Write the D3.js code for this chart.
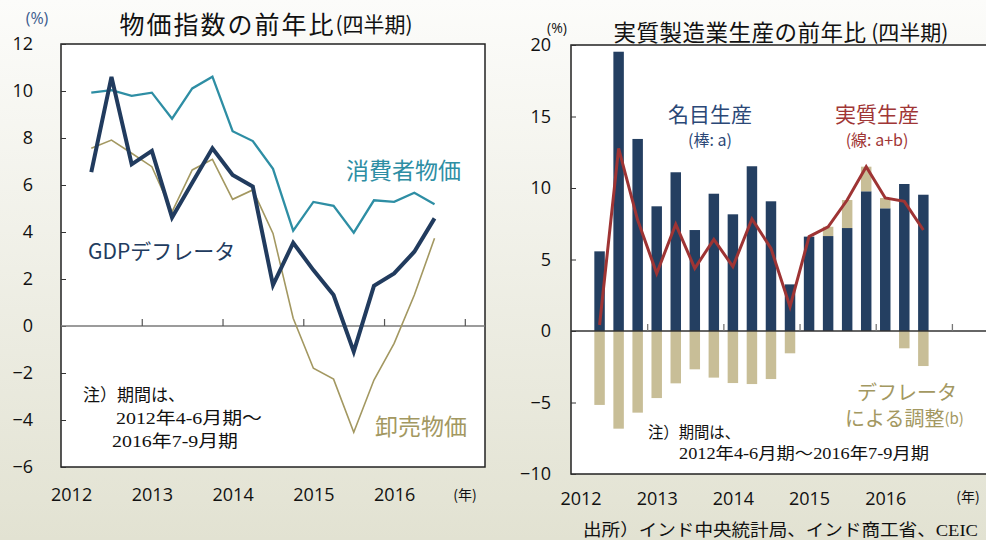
<!DOCTYPE html>
<html><head><meta charset="utf-8">
<script src="https://cdn.jsdelivr.net/npm/d3@7"></script>
<style>
html,body{margin:0;padding:0;}
svg{display:block;}
</style></head>
<body>
<svg id="chart" width="986" height="540"></svg>
<script>
// ---------- DATA ----------
const quarters = ["2012Q2","2012Q3","2012Q4","2013Q1","2013Q2","2013Q3","2013Q4","2014Q1","2014Q2","2014Q3","2014Q4","2015Q1","2015Q2","2015Q3","2015Q4","2016Q1","2016Q2","2016Q3"];
const years = [2012, 2013, 2014, 2015, 2016];
// Left chart: price indices YoY (%)
const cpi         = [9.93,10.04,9.79,9.93,8.82,10.11,10.61,8.29,7.87,6.69,4.06,5.28,5.11,3.97,5.35,5.28,5.67,5.18];
const gdpDeflator = [6.55,10.6,6.88,7.45,4.62,6.1,7.56,6.43,5.93,1.74,3.54,2.38,1.32,-1.09,1.71,2.24,3.16,4.58];
const wpi         = [7.56,7.91,7.35,6.78,4.86,6.64,7.09,5.39,5.79,3.94,0.33,-1.8,-2.26,-4.52,-2.3,-0.74,1.32,3.73];
const leftTicks = [12,10,8,6,4,2,0,-2,-4,-6];
// Right chart: manufacturing production YoY (%)
const nominalProd   = [5.57,19.53,13.43,8.72,11.1,7.06,9.6,8.16,11.52,9.07,3.26,6.6,6.64,7.2,9.77,8.58,10.28,9.53];
const deflatorAdj   = [-5.17,-6.83,-5.71,-4.69,-3.66,-2.68,-3.26,-3.64,-3.71,-3.36,-1.56,0,0.65,1.96,1.72,0.72,-1.21,-2.45];
const realProd      = [0.42,12.77,7.76,4.03,7.46,4.38,6.41,4.5,7.83,5.78,1.7,6.6,7.29,9.16,11.49,9.3,9.07,7.06];
const rightTicks = [20,15,10,5,0,-5,-10];

// ---------- HELPERS ----------
const qTime = q => +q.slice(0,4) + (+q.slice(5)-1)/4 + 0.125;
const JP = "'Noto Sans CJK JP', sans-serif";
const NUM = "'Open Sans', 'Noto Sans', sans-serif";
const NOTE = "'Liberation Serif', 'Noto Sans CJK JP', serif";

const svg = d3.select("#chart");
const defs = svg.append("defs");
const grad = defs.append("linearGradient").attr("id","bg").attr("x1",0).attr("y1",0).attr("x2",0).attr("y2",1);
grad.append("stop").attr("offset","0%").attr("stop-color","#fcfcfa");
grad.append("stop").attr("offset","100%").attr("stop-color","#e2e2d2");
svg.append("rect").attr("width",986).attr("height",540).attr("fill","url(#bg)");

function txt(g, x, y, s, opts) {
  const t = g.append("text").attr("x",x).attr("y",y).text(s)
    .attr("font-family", opts.family || JP)
    .attr("font-size", opts.size || 16)
    .attr("fill", opts.color || "#111")
    .attr("text-anchor", opts.anchor || "start")
    .attr("dominant-baseline", "central");
  if (opts.ls) t.attr("letter-spacing", opts.ls);
  if (opts.len) t.attr("textLength", opts.len).attr("lengthAdjust","spacingAndGlyphs");
  return t;
}

// ================= LEFT CHART =================
const L = {x0:61, x1:485, y0:44, y1:467};
const xL = d3.scaleLinear().domain([2012, 2017.25]).range([L.x0, L.x1]);
const yL = d3.scaleLinear().domain([-6, 12]).range([L.y1, L.y0]);
const gL = svg.append("g");

gL.append("rect").attr("x",L.x0).attr("y",L.y0).attr("width",L.x1-L.x0).attr("height",L.y1-L.y0)
  .attr("fill","#fff").attr("stroke","#222").attr("stroke-width",1.5);

const yAxL = d3.axisLeft(yL).tickValues(leftTicks).tickSize(-5).tickPadding(28).tickFormat(d3.format("d"));
gL.append("g").attr("transform",`translate(${L.x0},0)`).call(yAxL)
  .call(g => { g.select(".domain").remove();
    g.selectAll(".tick line").attr("stroke","#333");
    g.selectAll("text").attr("font-family",NUM).attr("font-size",18).attr("fill","#111"); });

gL.append("line").attr("x1",L.x0).attr("x2",L.x1).attr("y1",yL(0)).attr("y2",yL(0)).attr("stroke","#7a7a7a").attr("stroke-width",1.6);
const xAxL = d3.axisBottom(xL).tickValues(years.map(y=>y+1)).tickSize(-7).tickFormat("");
gL.append("g").attr("transform",`translate(0,${yL(0)})`).call(xAxL)
  .call(g => { g.select(".domain").remove(); g.selectAll(".tick line").attr("stroke","#555").attr("stroke-width",1.2); });

const xLabL = d3.axisBottom(xL).tickValues(years.map(y=>y+0.125)).tickSize(0).tickPadding(0).tickFormat(d=>Math.floor(d));
gL.append("g").attr("transform",`translate(0,488)`).call(xLabL)
  .call(g => { g.select(".domain").remove();
    g.selectAll("text").attr("font-family",NUM).attr("font-size",18).attr("fill","#111"); });
txt(gL, 465, 494, "(年)", {size:14, anchor:"middle"});

const lineL = d3.line().x((d,i)=>xL(qTime(quarters[i]))).y(d=>yL(d));
gL.append("path").datum(wpi).attr("d",lineL).attr("fill","none").attr("stroke","#a39861").attr("stroke-width",1.6);
gL.append("path").datum(cpi).attr("d",lineL).attr("fill","none").attr("stroke","#2e8ea4").attr("stroke-width",2.3);
gL.append("path").datum(gdpDeflator).attr("d",lineL).attr("fill","none").attr("stroke","#213b5e").attr("stroke-width",4).attr("stroke-linejoin","miter");

txt(gL, 37, 18, "(%)", {size:16, color:"#3b5b8e", anchor:"middle", family:NUM});
const tL = gL.append("text").attr("x",266).attr("y",23).attr("text-anchor","middle").attr("dominant-baseline","central")
  .attr("font-family",JP).attr("fill","#111");
tL.append("tspan").attr("font-size",25).attr("letter-spacing",2).text("物価指数の前年比");
tL.append("tspan").attr("font-size",21).text("(四半期)");
txt(gL, 88, 250, "GDPデフレータ", {size:21, color:"#213b5e"});
txt(gL, 346, 169, "消費者物価", {size:23, color:"#2e8ea4"});
txt(gL, 375, 425, "卸売物価", {size:23, color:"#a39861"});
txt(gL, 83, 395, "注）期間は、", {size:17, family:NOTE, len:102});
txt(gL, 116, 418, "2012年4-6月期～", {size:17, family:NOTE, len:146});
txt(gL, 112, 441, "2016年7-9月期", {size:17, family:NOTE, len:126});

// ================= RIGHT CHART =================
const R = {x0:571, x1:990, y0:45, y1:474};
const xR = d3.scaleLinear().domain([2012, 2017.5]).range([R.x0, R.x1]);
const yR = d3.scaleLinear().domain([-10, 20]).range([R.y1, R.y0]);
const gR = svg.append("g");

gR.append("rect").attr("x",R.x0).attr("y",R.y0).attr("width",R.x1-R.x0).attr("height",R.y1-R.y0)
  .attr("fill","#fff").attr("stroke","#222").attr("stroke-width",1.5);

const yAxR = d3.axisLeft(yR).tickValues(rightTicks).tickSize(-5).tickPadding(20).tickFormat(d3.format("d"));
gR.append("g").attr("transform",`translate(${R.x0},0)`).call(yAxR)
  .call(g => { g.select(".domain").remove();
    g.selectAll(".tick line").attr("stroke","#333");
    g.selectAll("text").attr("font-family",NUM).attr("font-size",18).attr("fill","#111"); });

const qw = (xR(2013)-xR(2012))/4;
const bw = qw*0.55;
gR.selectAll("rect.nom").data(nominalProd).join("rect").attr("class","nom")
  .attr("x",(d,i)=>xR(qTime(quarters[i]))-bw/2).attr("width",bw)
  .attr("y",d=>yR(Math.max(0,d))).attr("height",d=>Math.abs(yR(d)-yR(0)))
  .attr("fill","#243f61");
gR.selectAll("rect.adj").data(deflatorAdj).join("rect").attr("class","adj")
  .attr("x",(d,i)=>xR(qTime(quarters[i]))-bw/2).attr("width",bw)
  .attr("y",(d,i)=> d>=0 ? yR(nominalProd[i]+d) : yR(0))
  .attr("height",(d)=>Math.abs(yR(d)-yR(0)))
  .attr("fill","#c8be97");

gR.append("line").attr("x1",R.x0).attr("x2",R.x1).attr("y1",yR(0)).attr("y2",yR(0)).attr("stroke","#333").attr("stroke-width",1.3);
const xAxR = d3.axisBottom(xR).tickValues(years.map(y=>y+1)).tickSize(-7).tickFormat("");
gR.append("g").attr("transform",`translate(0,${yR(0)})`).call(xAxR)
  .call(g => { g.select(".domain").remove(); g.selectAll(".tick line").attr("stroke","#777").attr("stroke-width",1.3); });

const xLabR = d3.axisBottom(xR).tickValues(years.map(y=>y+0.125)).tickSize(0).tickPadding(0).tickFormat(d=>Math.floor(d));
gR.append("g").attr("transform",`translate(0,492)`).call(xLabR)
  .call(g => { g.select(".domain").remove();
    g.selectAll("text").attr("font-family",NUM).attr("font-size",18).attr("fill","#111"); });
txt(gR, 968, 496, "(年)", {size:14, anchor:"middle"});

const lineR = d3.line().x((d,i)=>xR(qTime(quarters[i]))).y(d=>yR(d));
gR.append("path").datum(realProd).attr("d",lineR).attr("fill","none").attr("stroke","#9e3434").attr("stroke-width",3);

txt(gR, 557, 27, "(%)", {size:14, anchor:"middle", family:NUM});
const tR = gR.append("text").attr("x",781).attr("y",31).attr("text-anchor","middle").attr("dominant-baseline","central")
  .attr("font-family",JP).attr("fill","#111");
tR.append("tspan").attr("font-size",22.5).attr("letter-spacing",0.5).text("実質製造業生産の前年比");
tR.append("tspan").attr("font-size",21).text(" (四半期)");

txt(gR, 710, 113, "名目生産", {size:21, color:"#2b4877", anchor:"middle"});
txt(gR, 710, 139, "(棒: a)", {size:16, color:"#2b4877", anchor:"middle"});
txt(gR, 877, 113, "実質生産", {size:21, color:"#a03636", anchor:"middle"});
txt(gR, 877, 139, "(線: a+b)", {size:16, color:"#a03636", anchor:"middle"});
txt(gR, 907, 391, "デフレータ", {size:20, color:"#a39861", anchor:"middle"});
const tb = gR.append("text").attr("x",845).attr("y",417).attr("dominant-baseline","central").attr("font-family",JP).attr("fill","#a39861");
tb.append("tspan").attr("font-size",20).text("による調整");
tb.append("tspan").attr("font-size",15).text("(b)");
txt(gR, 648, 432, "注）期間は、", {size:16, family:NOTE, len:92});
txt(gR, 679, 453, "2012年4-6月期～2016年7-9月期", {size:16, family:NOTE, len:250});
txt(svg, 978, 530, "出所）インド中央統計局、インド商工省、CEIC", {size:17, family:NOTE, anchor:"end", len:395});
</script>
</body></html>
